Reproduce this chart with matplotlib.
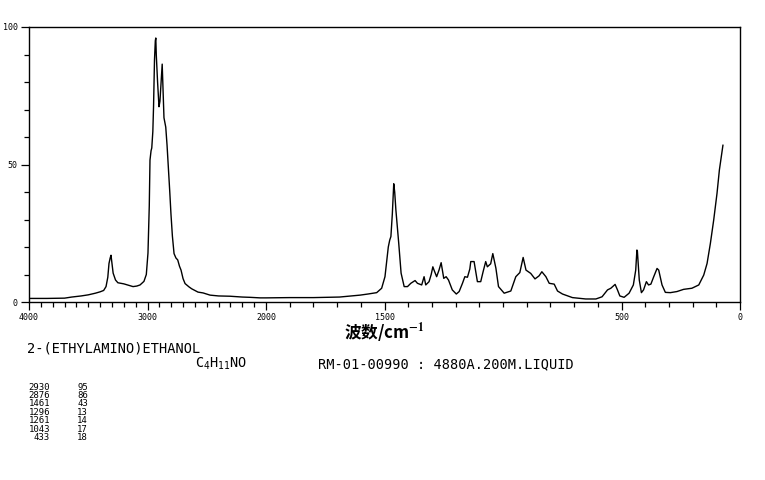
import numpy as np
import matplotlib
matplotlib.use("Agg")
import matplotlib.pyplot as plt
from matplotlib.ticker import FixedLocator

# Raman spectrum (wavenumber cm-1, relative intensity)
wavenumber = [4000, 3850, 3700, 3640, 3560, 3500, 3440, 3400, 3370, 3350,
              3335, 3325, 3315, 3308, 3300, 3290, 3270, 3250, 3200, 3170,
              3122, 3090, 3063, 3030, 3010, 2996, 2985, 2979, 2970, 2964,
              2955, 2949, 2941, 2934, 2930, 2926, 2915, 2903, 2895, 2885,
              2876, 2868, 2861, 2846, 2835, 2824, 2812, 2802, 2790, 2776,
              2760, 2745, 2730, 2717, 2700, 2683, 2650, 2627, 2574, 2531,
              2472, 2400, 2304, 2200, 2135, 2050, 2000, 1900, 1800, 1690,
              1640, 1603, 1570, 1533, 1512, 1498, 1484, 1478, 1473, 1467,
              1463, 1461, 1457, 1452, 1440, 1430, 1417, 1403, 1389, 1371,
              1361, 1343, 1333, 1326, 1312, 1303, 1296, 1291, 1280, 1270,
              1261, 1250, 1240, 1230, 1214, 1197, 1185, 1171, 1161, 1150,
              1140, 1136, 1122, 1108, 1094, 1084, 1073, 1066, 1052, 1043,
              1030, 1019, 995, 967, 946, 929, 915, 903, 883, 865,
              848, 836, 819, 805, 784, 770, 749, 707, 651, 608,
              582, 559, 545, 527, 517, 507, 489, 468, 450, 440,
              435, 433, 425, 416, 407, 395, 386, 376, 364, 350,
              343, 329, 315, 294, 266, 238, 203, 174, 153, 139,
              125, 111, 97, 87, 78, 72]
intensity = [1.3, 1.3, 1.4, 1.8, 2.2, 2.6, 3.2, 3.7, 4.2, 5.6,
             9, 14, 16, 17, 14, 10.5, 8, 7, 6.6, 6.2,
             5.6, 5.8, 6.2, 7.5, 10, 17.8, 35, 51.6, 55, 56,
             62, 71, 88, 95, 96, 90, 80, 71, 73, 80,
             86.5, 76, 67, 63.6, 57, 49, 40, 32, 24, 17.6,
             16, 15.3, 13, 11.6, 8.5, 6.7, 5.5, 4.8, 3.6, 3.3,
             2.5, 2.2, 2.1, 1.8, 1.7, 1.5, 1.5, 1.6, 1.6, 1.8,
             2.2, 2.5, 2.9, 3.4, 5, 9.2, 20, 22.5, 23.8, 32,
             39.5, 43, 40, 33.5, 21.4, 10.5, 5.6, 5.6, 6.8, 7.8,
             6.8, 6.2, 9.2, 6.2, 7.4, 10, 12.8, 11.6, 9.2, 11.6,
             14.3, 8.6, 9.2, 8, 4.4, 2.9, 3.8, 6.8, 9.2, 9,
             12, 14.7, 14.7, 7.4, 7.4, 11, 14.7, 12.8, 13.9, 17.6,
             12.3, 5.6, 3.2, 4, 9.2, 10.7, 16.2, 11.6, 10.4, 8.4,
             9.5, 11, 9.2, 6.8, 6.5, 4, 2.9, 1.6, 1.1, 1.1,
             1.9, 4.4, 5, 6.4, 4.4, 2.2, 1.7, 3.2, 6.2, 11.6,
             18.9, 18.5, 8, 3.4, 4.4, 7.4, 6.2, 6.5, 9.2, 12.2,
             11.6, 6.2, 3.5, 3.4, 3.8, 4.6, 5, 6.2, 9.8, 14,
             21.3, 29.8, 39.5, 48, 53.5, 57]

x_ticks = [4000, 3000, 2000, 1500, 500, 0]
x_tick_labels = ["4000", "3000", "2000", "1500", "500", "0"]
y_ticks = [0, 50, 100]
y_tick_labels = ["0", "50", "100"]

peak_wn = [2930, 2876, 1461, 1296, 1261, 1043, 433]
peak_int = [95, 86, 43, 13, 14, 17, 18]

compound = "2-(ETHYLAMINO)ETHANOL"
formula = r"C$_\mathregular{4}$H$_\mathregular{11}$NO"
sample_info = "RM-01-00990 : 4880A.200M.LIQUID"

plt.rcParams["font.family"] = ["DejaVu Sans Mono"]


# the axis is stretched by two below 2000 cm-1
def fwd(x):
    x = np.asarray(x, dtype=float)
    return np.where(x >= 2000, x, 2 * x - 2000)


def inv(u):
    u = np.asarray(u, dtype=float)
    return np.where(u >= 2000, u, (u + 2000) / 2)


fig = plt.figure(figsize=(7.65, 4.8), dpi=100)
ax = fig.add_axes([29 / 765, 178 / 480, 711 / 765, 275 / 480])
ax.plot(wavenumber, intensity, color="black", lw=1.0)

ax.set_xscale("function", functions=(fwd, inv))
ax.set_xlim(4000, 0)
ax.set_ylim(0, 100)
ax.set_xticks(x_ticks)
ax.set_xticklabels(x_tick_labels)
ax.xaxis.set_minor_locator(FixedLocator(list(range(0, 4001, 100))))
ax.set_yticks(y_ticks)
ax.set_yticklabels(y_tick_labels)
ax.yaxis.set_minor_locator(FixedLocator(list(range(0, 101, 10))))
ax.tick_params(which="major", length=6, width=0.9, labelsize=6, pad=2)
ax.tick_params(which="minor", length=3.5, width=0.9)
for s in ax.spines.values():
    s.set_linewidth(1.0)

fig.text(384 / 765, 1 - 333 / 480, r"波数/cm$^{\mathbf{-1}}$", ha="center", va="center",
         fontsize=12, fontweight="bold", family=["Noto Sans CJK SC", "DejaVu Serif"],
         math_fontfamily="stix")

fig.text(27 / 765, 1 - 349 / 480, compound, ha="left", va="center", fontsize=9.8)
fig.text(195 / 765, 1 - 364 / 480, formula, ha="left", va="center", fontsize=9.8)
fig.text(318 / 765, 1 - 364 / 480, sample_info, ha="left", va="center", fontsize=9.8)

for i in range(len(peak_wn)):
    y = 1 - (387 + i * 8.4) / 480
    fig.text(50 / 765, y, str(peak_wn[i]), ha="right", va="center", fontsize=6.5)
    fig.text(77 / 765, y, str(peak_int[i]), ha="left", va="center", fontsize=6.5)

fig.savefig("out.png", dpi=100)
